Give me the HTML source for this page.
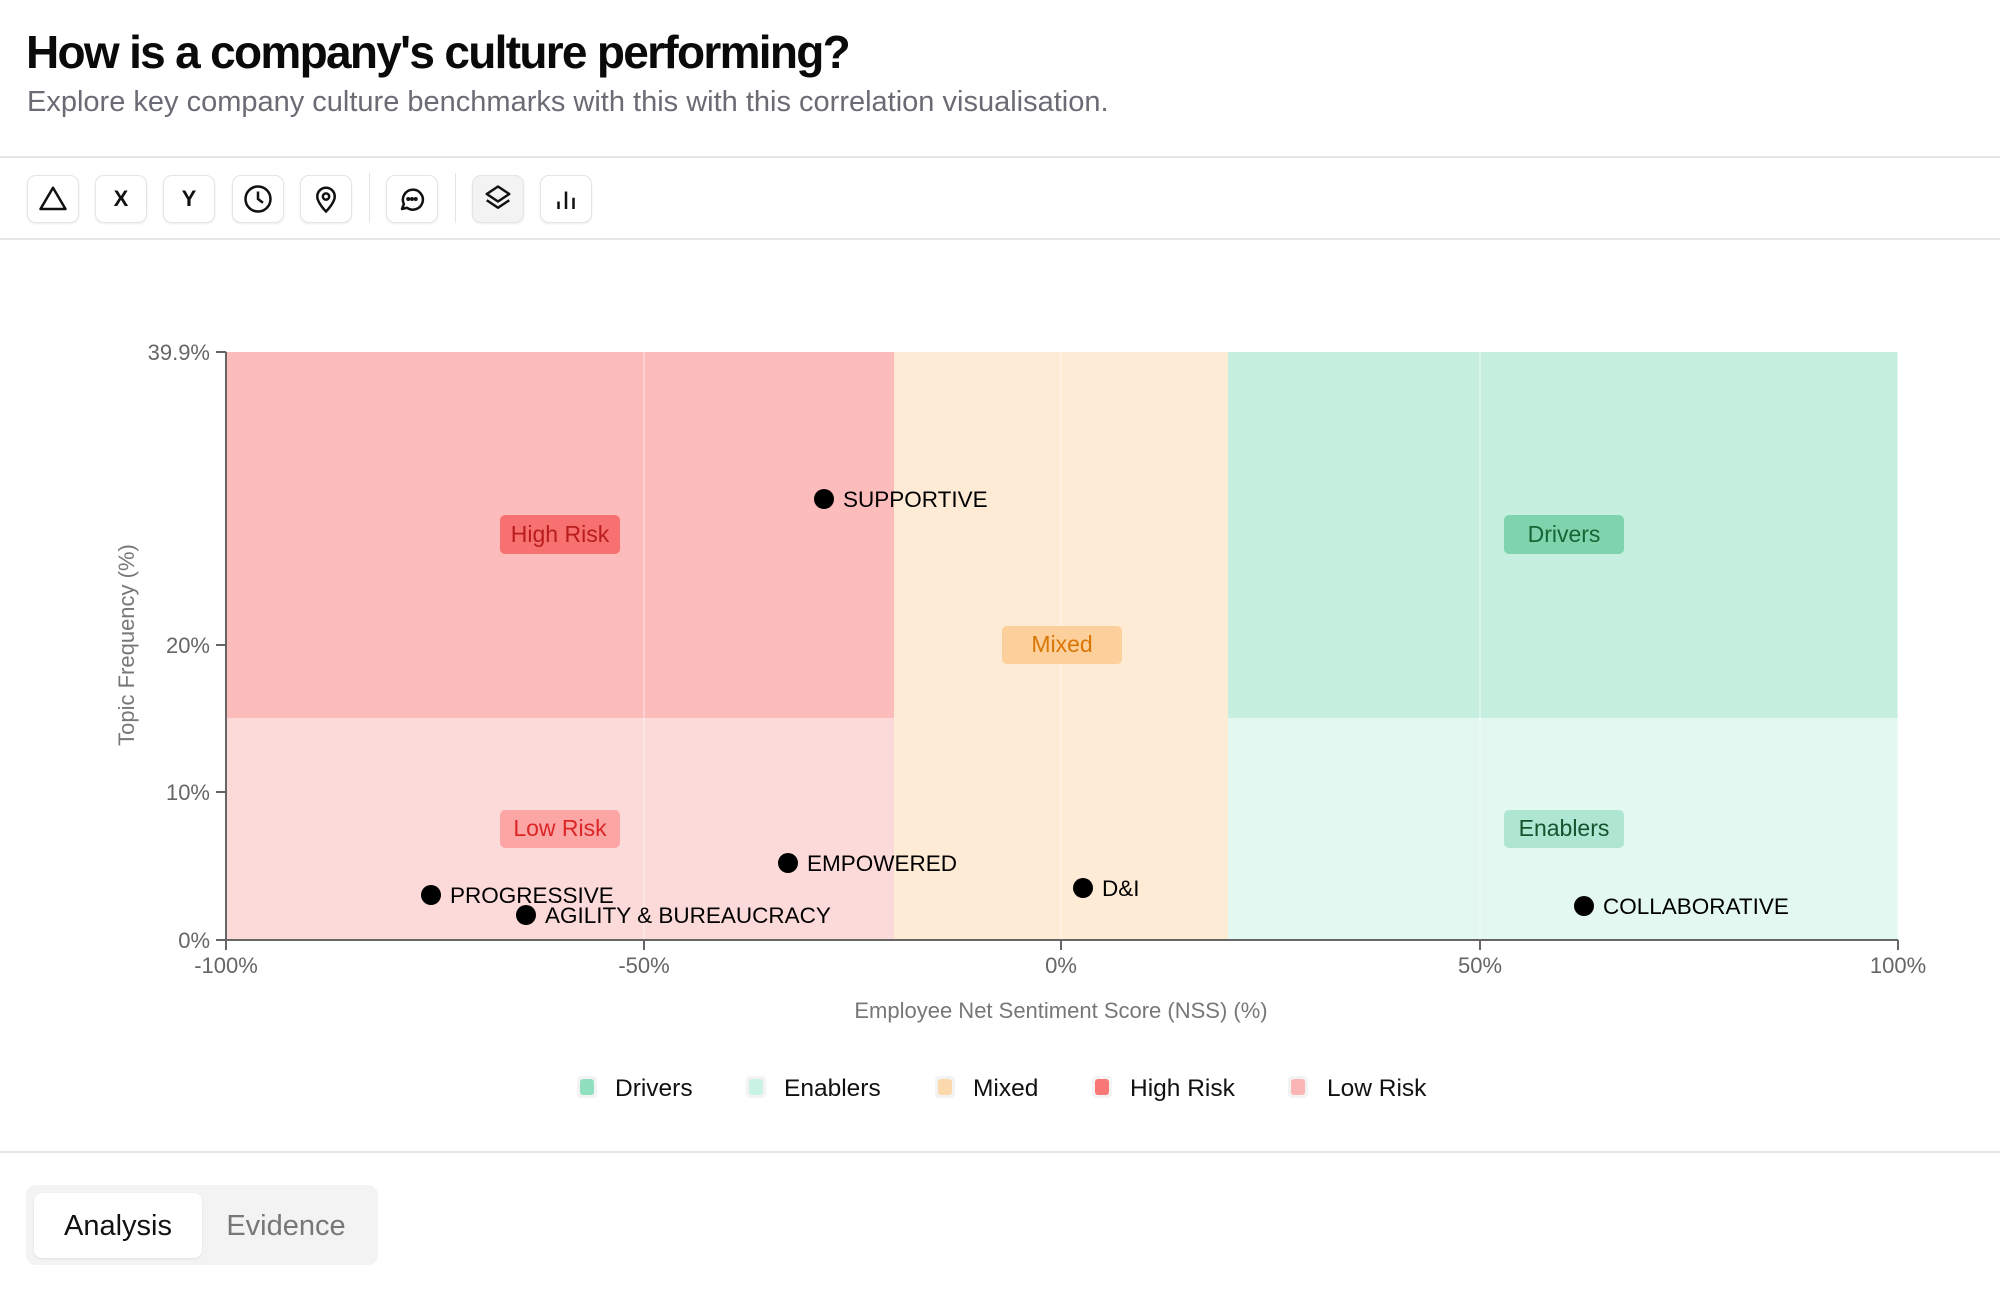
<!DOCTYPE html>
<html><head><meta charset="utf-8"><style>
body{margin:0;width:2000px;height:1290px;background:#fff;font-family:"Liberation Sans",Arial,sans-serif;overflow:hidden;position:relative}
.a{position:absolute}
.btn{position:absolute;top:175px;width:50px;height:46px;border:1px solid #e5e5e5;border-radius:9px;box-shadow:0 1px 2px rgba(0,0,0,.08);background:#fff;display:flex;align-items:center;justify-content:center;font-weight:bold;font-size:22px;color:#111}
.sep{position:absolute;top:173px;width:1px;height:50px;background:#e5e5e5}
</style></head><body>
<div class="a" style="left:26px;top:25px;font-size:46px;font-weight:bold;letter-spacing:-1.7px;color:#0a0a0a">How is a company's culture performing?</div>
<div class="a" style="left:27px;top:86px;font-size:29px;color:#6b6b75">Explore key company culture benchmarks with this with this correlation visualisation.</div>
<div class="a" style="left:0;top:156px;width:2000px;height:2px;background:#e5e5e5"></div>
<div class="btn" style="left:27px"><svg width="30" height="30" viewBox="0 0 24 24" fill="none" stroke="#111" stroke-width="2"><path d="M12 3L2 20h20z" stroke-linejoin="round"/></svg></div>
<div class="btn" style="left:95px">X</div>
<div class="btn" style="left:163px">Y</div>
<div class="btn" style="left:232px"><svg width="30" height="30" viewBox="0 0 24 24" fill="none" stroke="#111" stroke-width="2"><circle cx="12" cy="12" r="10"/><path d="M12 6v6l4 3"/></svg></div>
<div class="btn" style="left:300px"><svg width="30" height="30" viewBox="0 0 24 24" fill="none" stroke="#111" stroke-width="2"><path d="M12 22s7-7 7-12a7 7 0 0 0-14 0c0 5 7 12 7 12z"/><circle cx="12" cy="10" r="2.5"/></svg></div>
<div class="sep" style="left:369px"></div>
<div class="btn" style="left:386px"><svg width="30" height="30" viewBox="0 0 24 24" fill="none" stroke="#111" stroke-width="2"><path d="M4 20l1.5-4A8 8 0 1 1 8 19z" stroke-linejoin="round"/><circle cx="9" cy="12" r=".6" fill="#111"/><circle cx="12" cy="12" r=".6" fill="#111"/><circle cx="15" cy="12" r=".6" fill="#111"/></svg></div>
<div class="sep" style="left:455px"></div>
<div class="btn" style="left:472px;background:#f3f3f3"><svg width="30" height="30" viewBox="0 0 24 24" fill="none" stroke="#111" stroke-width="2" stroke-linejoin="round"><path d="M12 2l9 6-9 6-9-6z"/><path d="M3 13l9 6 9-6"/></svg></div>
<div class="btn" style="left:540px"><svg width="30" height="30" viewBox="0 0 24 24" fill="none" stroke="#111" stroke-width="2"><path d="M6 20v-6M12 20V6M18 20v-9"/></svg></div>
<div class="a" style="left:0;top:238px;width:2000px;height:2px;background:#e5e5e5"></div>

<svg class="a" style="left:0;top:0" width="2000" height="1150">
<g font-family="Liberation Sans, Arial, sans-serif">
<rect x="226" y="352" width="668" height="366" fill="#fdbcbc"/>
<rect x="226" y="718" width="668" height="222" fill="#fddada"/>
<rect x="894" y="352" width="334" height="588" fill="#feebd6"/>
<rect x="1228" y="352" width="670" height="366" fill="#c6efdf"/>
<rect x="1228" y="718" width="670" height="222" fill="#e2f8f0"/>
<g stroke="#fff" stroke-opacity=".45" stroke-width="1.5"><line x1="644" y1="352" x2="644" y2="940"/><line x1="1061" y1="352" x2="1061" y2="940"/><line x1="1480" y1="352" x2="1480" y2="940"/><line x1="1898" y1="352" x2="1898" y2="940"/></g>
<g stroke="#666" stroke-width="2"><line x1="226" y1="352" x2="226" y2="941"/><line x1="225" y1="940" x2="1898" y2="940"/>
<line x1="216" y1="352" x2="226" y2="352"/><line x1="216" y1="645" x2="226" y2="645"/><line x1="216" y1="792" x2="226" y2="792"/><line x1="216" y1="940" x2="226" y2="940"/>
<line x1="226" y1="940" x2="226" y2="950"/><line x1="644" y1="940" x2="644" y2="950"/><line x1="1061" y1="940" x2="1061" y2="950"/><line x1="1480" y1="940" x2="1480" y2="950"/><line x1="1898" y1="940" x2="1898" y2="950"/></g>
<g font-size="22" fill="#666" text-anchor="end"><text x="210" y="360">39.9%</text><text x="210" y="653">20%</text><text x="210" y="800">10%</text><text x="210" y="948">0%</text></g>
<g font-size="22" fill="#666" text-anchor="middle"><text x="226" y="973">-100%</text><text x="644" y="973">-50%</text><text x="1061" y="973">0%</text><text x="1480" y="973">50%</text><text x="1898" y="973">100%</text></g>
<text x="1061" y="1018" font-size="22" fill="#777" text-anchor="middle">Employee Net Sentiment Score (NSS) (%)</text>
<text transform="translate(134,645) rotate(-90)" font-size="22" fill="#777" text-anchor="middle">Topic Frequency (%)</text>
<rect x="500" y="515" width="120" height="39" rx="5" fill="#f87171"/><text x="560" y="542" font-size="23" fill="#b91c1c" text-anchor="middle">High Risk</text>
<rect x="500" y="810" width="120" height="38" rx="5" fill="#fca5a5"/><text x="560" y="836" font-size="23" fill="#dc2626" text-anchor="middle">Low Risk</text>
<rect x="1002" y="626" width="120" height="38" rx="5" fill="#fdcf9a"/><text x="1062" y="652" font-size="23" fill="#d97706" text-anchor="middle">Mixed</text>
<rect x="1504" y="515" width="120" height="39" rx="5" fill="#7fd4ae"/><text x="1564" y="542" font-size="23" fill="#166534" text-anchor="middle">Drivers</text>
<rect x="1504" y="810" width="120" height="38" rx="5" fill="#aee6d2"/><text x="1564" y="836" font-size="23" fill="#14532d" text-anchor="middle">Enablers</text>
<g font-size="22.5" fill="#000">
<circle cx="824" cy="499" r="10"/><text x="843" y="507">SUPPORTIVE</text>
<circle cx="788" cy="863" r="10"/><text x="807" y="871">EMPOWERED</text>
<circle cx="431" cy="895" r="10"/><text x="450" y="903">PROGRESSIVE</text>
<circle cx="526" cy="915" r="10"/><text x="545" y="923">AGILITY &amp; BUREAUCRACY</text>
<circle cx="1083" cy="888" r="10"/><text x="1102" y="896">D&amp;I</text>
<circle cx="1584" cy="906" r="10"/><text x="1603" y="914">COLLABORATIVE</text>
</g>
<g font-size="24.5" font-weight="500" fill="#111">
<rect x="577" y="1076" width="20" height="22" rx="4" fill="#f3f3f3"/><rect x="580" y="1079" width="14" height="16" rx="3" fill="#8ee0bf"/><text x="615" y="1096">Drivers</text>
<rect x="746" y="1076" width="20" height="22" rx="4" fill="#f3f3f3"/><rect x="749" y="1079" width="14" height="16" rx="3" fill="#c8f2e3"/><text x="784" y="1096">Enablers</text>
<rect x="935" y="1076" width="20" height="22" rx="4" fill="#f3f3f3"/><rect x="938" y="1079" width="14" height="16" rx="3" fill="#fcd9ad"/><text x="973" y="1096">Mixed</text>
<rect x="1092" y="1076" width="20" height="22" rx="4" fill="#f3f3f3"/><rect x="1095" y="1079" width="14" height="16" rx="3" fill="#f87878"/><text x="1130" y="1096">High Risk</text>
<rect x="1288" y="1076" width="20" height="22" rx="4" fill="#f3f3f3"/><rect x="1291" y="1079" width="14" height="16" rx="3" fill="#fcb5b5"/><text x="1327" y="1096">Low Risk</text>
</g></g></svg>
<div class="a" style="left:0;top:1151px;width:2000px;height:2px;background:#e5e5e5"></div>
<div class="a" style="left:26px;top:1185px;width:352px;height:80px;border-radius:10px;background:#f3f3f3"></div>
<div class="a" style="left:34px;top:1193px;width:168px;height:65px;border-radius:8px;background:#fff;box-shadow:0 1px 2px rgba(0,0,0,.08)"></div>
<div class="a" style="left:34px;top:1194px;width:168px;line-height:65px;text-align:center;font-size:29px;font-weight:500;color:#111">Analysis</div>
<div class="a" style="left:210px;top:1194px;width:152px;line-height:65px;text-align:center;font-size:29px;color:#777">Evidence</div>
</body></html>
